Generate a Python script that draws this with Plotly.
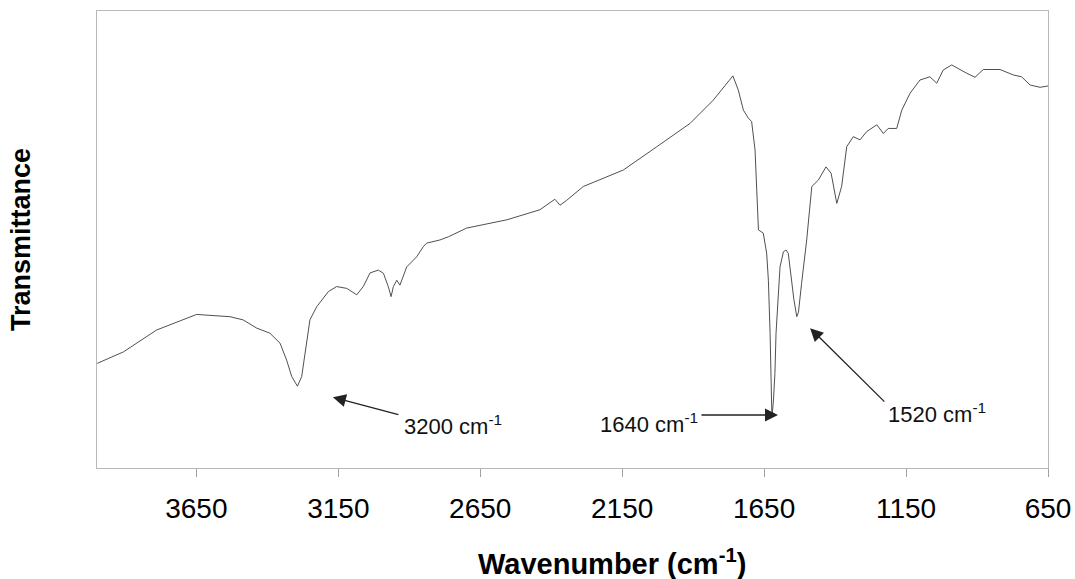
import plotly.graph_objects as go

# Spectrum (wavenumber in cm-1, transmittance in arbitrary units 0-100)
wavenumber = [3999, 3907, 3790, 3672, 3649, 3531, 3485, 3437, 3391, 3355, 3332, 3314, 3294, 3279,
              3264, 3250, 3226, 3185, 3156, 3120, 3085, 3062, 3038, 3009, 2991, 2974, 2964, 2956,
              2944, 2933, 2909, 2874, 2851, 2839, 2792, 2762, 2698, 2557, 2440, 2387, 2369, 2345,
              2287, 2146, 2028, 1911, 1829, 1788, 1760, 1741, 1723, 1706, 1694, 1682, 1675, 1670,
              1653, 1641, 1635, 1629, 1623, 1621, 1617, 1612, 1608, 1600, 1594, 1582, 1573, 1565,
              1553, 1545, 1535, 1529, 1518, 1500, 1482, 1459, 1432, 1414, 1394, 1377, 1359, 1336,
              1312, 1289, 1253, 1230, 1213, 1183, 1165, 1136, 1101, 1066, 1042, 1019, 989, 960,
              937, 907, 878, 819, 772, 743, 713, 678, 650]
transmittance = [22.9, 25.4, 30.2, 33.1, 33.6, 33.1, 32.4, 30.6, 29.5, 27.3, 23.6, 20.0, 17.9, 20.0,
                 26.5, 32.4, 35.3, 38.6, 39.7, 39.3, 37.9, 39.7, 42.7, 43.3, 42.6, 39.7, 37.5, 39.7,
                 41.1, 40.0, 44.0, 46.2, 48.4, 49.2, 49.9, 50.6, 52.5, 54.3, 56.5, 58.8, 57.5, 58.6,
                 61.6, 65.2, 70.3, 75.4, 80.5, 83.8, 85.8, 82.7, 78.3, 76.6, 75.8, 69.6, 58.6, 52.1,
                 51.4, 47.0, 41.1, 29.5, 12.5, 12.0, 14.9, 20.7, 29.5, 38.2, 44.0, 47.3, 47.7, 47.0,
                 40.4, 36.8, 33.1, 34.1, 40.4, 49.9, 61.6, 63.0, 65.9, 64.5, 57.9, 61.6, 70.3, 72.5,
                 71.8, 73.6, 75.1, 73.2, 74.3, 74.3, 78.3, 82.0, 84.9, 85.6, 84.2, 87.1, 88.2, 87.1,
                 86.4, 85.5, 87.2, 87.2, 86.0, 85.6, 83.8, 83.3, 83.6]

tick_values = [3650, 3150, 2650, 2150, 1650, 1150, 650]
tick_labels = ["3650", "3150", "2650", "2150", "1650", "1150", "650"]

peak_labels = ["3200 cm<sup>-1</sup>", "1640 cm<sup>-1</sup>", "1520 cm<sup>-1</sup>"]

FONT = "Liberation Sans, Arial, sans-serif"

fig = go.Figure()
fig.add_trace(go.Scatter(
    x=wavenumber, y=transmittance, mode="lines",
    line=dict(color="#505050", width=1), showlegend=False, hoverinfo="skip"))

# text labels
label_pos = [(2745, 9.4), (2055, 9.8), (1041, 12.0)]
for txt, (lx, ly) in zip(peak_labels, label_pos):
    fig.add_annotation(x=lx, y=ly, xref="x", yref="y", text=txt, showarrow=False,
                       font=dict(family=FONT, size=22, color="#111111"))

# arrows: (tail x, tail y, tip x, tip y)
arrows = [(2933, 11.6, 3169, 15.5), (1876, 11.6, 1601, 11.6), (1221, 14.2, 1488, 30.6)]
for tx, ty, hx, hy in arrows:
    fig.add_annotation(x=hx, y=hy, ax=tx, ay=ty, xref="x", yref="y", axref="x", ayref="y",
                       text="", showarrow=True, arrowhead=2, arrowsize=2.0, arrowwidth=1.3,
                       arrowcolor="#222222", standoff=0, startstandoff=0)

# x-axis title (placed as in the reference, slightly right of centre)
fig.add_annotation(x=0.5415, y=-0.205, xref="paper", yref="paper",
                   text="<b>Wavenumber (cm<sup>-1</sup>)</b>", showarrow=False,
                   xanchor="center", yanchor="middle",
                   font=dict(family=FONT, size=29, color="black"))

fig.update_layout(
    width=1075, height=579,
    margin=dict(l=97, r=27, t=11, b=111),
    paper_bgcolor="white", plot_bgcolor="white",
    font=dict(family=FONT, color="black"),
    xaxis=dict(
        range=[4000, 650], tickmode="array", tickvals=tick_values, ticktext=tick_labels,
        ticks="outside", ticklen=8, tickcolor="#a0a0a0", tickwidth=1,
        tickfont=dict(size=28, color="black"), ticklabelstandoff=7,
        showgrid=False, zeroline=False, automargin=False,
        showline=True, linecolor="#b8b8b8", linewidth=1, mirror=True,
    ),
    yaxis=dict(
        range=[0, 100], showticklabels=False, ticks="", showgrid=False, zeroline=False,
        showline=True, linecolor="#b8b8b8", linewidth=1, mirror=True, automargin=False,
        title=dict(text="<b>Transmittance</b>", font=dict(size=27, color="black"), standoff=57),
    ),
)

fig.write_html("out.html")
